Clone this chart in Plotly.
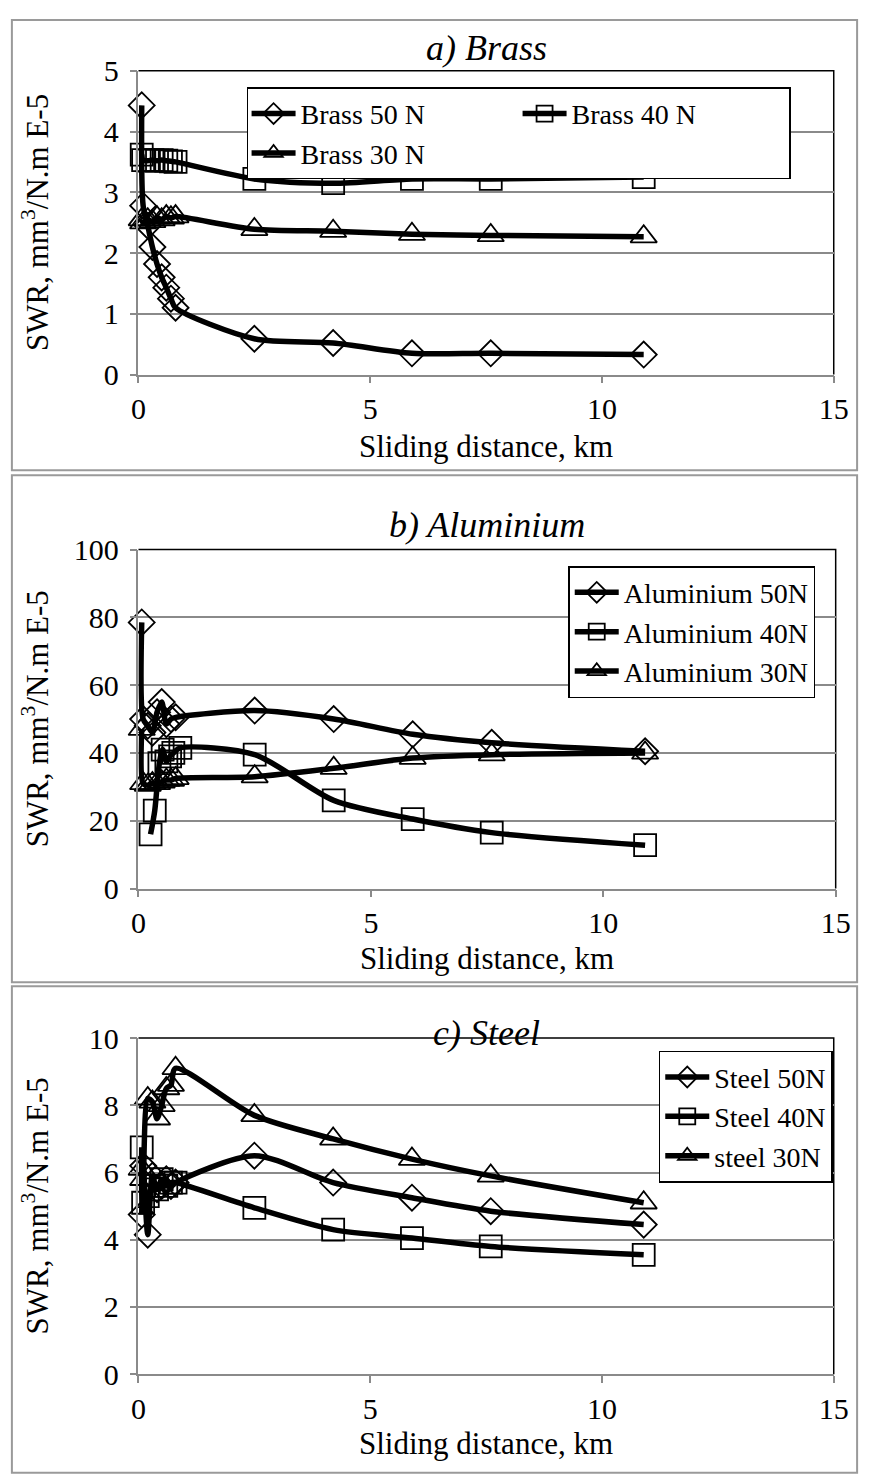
import plotly.graph_objects as go

W, H = 876, 1484
FONT = "Times New Roman, Liberation Serif, DejaVu Serif, serif"

# ---------------- data ----------------
distance_km = [0.07, 0.1, 0.2, 0.3, 0.4, 0.5, 0.6, 0.7, 0.8, 2.5, 4.2, 5.9, 7.6, 10.9]

brass_50 = [4.43, 2.78, 2.45, 2.1, 1.82, 1.6, 1.43, 1.25, 1.1, 0.59, 0.52, 0.35, 0.35, 0.33]
brass_40 = [3.62, 3.53, 3.52, 3.53, 3.52, 3.53, 3.52, 3.51, 3.5, 3.22, 3.15, 3.22, 3.22, 3.25]
brass_30 = [2.55, 2.5, 2.55, 2.52, 2.58, 2.55, 2.6, 2.58, 2.6, 2.39, 2.36, 2.31, 2.29, 2.27]

al_50 = [78.5, 50, 48, 46, 52, 55, 48.5, 50, 50.5, 52.5, 50, 45.5, 43, 40.5]
al_40_km = [0.26, 0.35, 0.45, 0.52, 0.6, 0.68, 0.75, 0.9, 2.5, 4.2, 5.9, 7.6, 10.9]
al_40 = [16, 23, 37, 41, 37.5, 39, 40, 41.5, 39.5, 26, 20.5, 16.5, 12.8]
al_30 = [47, 31, 30.5, 31, 31, 31.5, 32, 32, 32.5, 33, 35.5, 38.5, 39.5, 40]

steel_50 = [4.75, 6.2, 4.15, 5.9, 5.5, 5.6, 5.8, 5.6, 5.7, 6.5, 5.7, 5.25, 4.85, 4.45]
steel_40 = [6.75, 5.1, 5.3, 5.6, 5.5, 5.8, 5.6, 5.7, 5.7, 4.95, 4.3, 4.05, 3.8, 3.55]
steel_30 = [6.1, 5.8, 8.2, 8.1, 7.6, 8.0, 8.5, 8.6, 9.1, 7.7, 7.0, 6.4, 5.9, 5.1]

x_ticks = [0, 5, 10, 15]

# ---------------- layout geometry (pixels) ----------------
def px(x):
    return x / W

def py(y):
    return 1 - y / H

panels = [
    dict(x0=134, x1=848, yt=55, yb=366, bt=3, bb=464, ty=32, xt=440, ymax=5, dt=1, title="a) Brass"),
    dict(x0=134, x1=850, yt=545, yb=892, bt=469, bb=988, ty=520, xt=964, ymax=100, dt=20, title="b) Aluminium"),
    dict(x0=134, x1=848, yt=1045, yb=1389, bt=992, bb=1490, ty=1040, xt=1460, ymax=10, dt=2, title="c) Steel"),
]

fig = go.Figure()

LW = 5.5
MK = dict(color="black", line=dict(color="black", width=1.8))

def add(x, y, name, sym, size, idx, legend, group=None):
    axn = "" if idx == 1 else str(idx)
    fig.add_trace(go.Scatter(
        x=x, y=y, name=name, mode="lines+markers",
        line=dict(color="black", width=LW, shape="spline", smoothing=0.8),
        marker=dict(symbol=sym, size=size, **MK),
        xaxis="x" + axn, yaxis="y" + axn, legend=legend,
        legendgroup=group, cliponaxis=False,
    ))

add(distance_km, brass_50, "Brass 50 N", "diamond-open", 20, 1, "legend", "g1")
add(distance_km, brass_40, "Brass 40 N", "square-open", 22, 1, "legend", "g2")
add(distance_km, brass_30, "Brass 30 N", "triangle-up-open", 23, 1, "legend", "g1")

add(distance_km, al_50, "Aluminium 50N", "diamond-open", 20, 2, "legend2")
add(al_40_km, al_40, "Aluminium 40N", "square-open", 22, 2, "legend2")
add(distance_km, al_30, "Aluminium 30N", "triangle-up-open", 23, 2, "legend2")

add(distance_km, steel_50, "Steel 50N", "diamond-open", 20, 3, "legend3")
add(distance_km, steel_40, "Steel 40N", "square-open", 22, 3, "legend3")
add(distance_km, steel_30, "steel 30N", "triangle-up-open", 23, 3, "legend3")

GRID = "#8a8a8a"
TICK_FS = 30
TITLE_FS = 31
shapes = []
annotations = []
layout_axes = {}
for i, p in enumerate(panels, start=1):
    axn = "" if i == 1 else str(i)
    layout_axes["xaxis" + axn] = dict(
        domain=[px(p["x0"]), px(p["x1"])], range=[0, 15], tickvals=x_ticks,
        anchor="y" + axn, showline=True, linecolor=GRID, linewidth=1.5,
        ticks="outside", ticklen=7, tickcolor=GRID, tickwidth=1.5,
        showgrid=False, zeroline=False, ticklabelstandoff=0,
        tickfont=dict(family=FONT, size=TICK_FS, color="black"),
    )
    layout_axes["yaxis" + axn] = dict(
        domain=[py(p["yb"]), py(p["yt"])], range=[0, p["ymax"]], dtick=p["dt"],
        anchor="x" + axn, showline=True, linecolor=GRID, linewidth=1.5,
        ticks="outside", ticklen=7, tickcolor=GRID, tickwidth=1.5,
        showgrid=True, gridcolor=GRID, gridwidth=1.5, zeroline=False,
        ticklabelstandoff=5,
        tickfont=dict(family=FONT, size=TICK_FS, color="black"),
    )
    shapes.append(dict(type="rect", xref="paper", yref="paper",
                       x0=px(4), x1=px(872), y0=py(p["bb"]), y1=py(p["bt"]),
                       line=dict(color="#9a9a9a", width=2), layer="below"))
    shapes.append(dict(type="path", xref="paper", yref="paper",
                       path=f"M{px(p['x0'])},{py(p['yt'])} L{px(p['x1'])},{py(p['yt'])} L{px(p['x1'])},{py(p['yb'])}",
                       line=dict(color="black", width=1.5), layer="below"))
    annotations.append(dict(text=p["title"], xref="paper", yref="paper",
                            x=px((p["x0"] + p["x1"]) / 2), y=py(p["ty"]),
                            showarrow=False, xanchor="center", yanchor="middle",
                            font=dict(family=FONT, size=36, color="black", style="italic")))
    annotations.append(dict(text="Sliding distance, km", xref="paper", yref="paper",
                            x=px((p["x0"] + p["x1"]) / 2), y=py(p["xt"]),
                            showarrow=False, xanchor="center", yanchor="middle",
                            font=dict(family=FONT, size=TITLE_FS, color="black")))
    annotations.append(dict(text="SWR, mm<sup>3</sup>/N.m E-5", xref="paper", yref="paper",
                            x=px(28), y=py((p["yt"] + p["yb"]) / 2), textangle=-90,
                            showarrow=False, xanchor="center", yanchor="middle",
                            font=dict(family=FONT, size=TITLE_FS, color="black")))

leg_common = dict(bgcolor="white", bordercolor="black", borderwidth=1.5,
                  font=dict(family=FONT, size=28, color="black"),
                  yanchor="top", itemwidth=44, tracegroupgap=0)

fig.update_layout(
    width=W, height=H, margin=dict(l=0, r=0, t=0, b=0),
    paper_bgcolor="white", plot_bgcolor="white",
    font=dict(family=FONT, color="black"),
    shapes=shapes, annotations=annotations,
    legend=dict(**leg_common, orientation="h", traceorder="grouped",
                xanchor="left", x=px(245), y=py(72), entrywidth=212),
    legend2=dict(**leg_common, orientation="v", xanchor="right", x=px(829), y=py(562)),
    legend3=dict(**leg_common, orientation="v", xanchor="right", x=px(847), y=py(1058)),
    **layout_axes,
)

fig.write_html("out.html")
